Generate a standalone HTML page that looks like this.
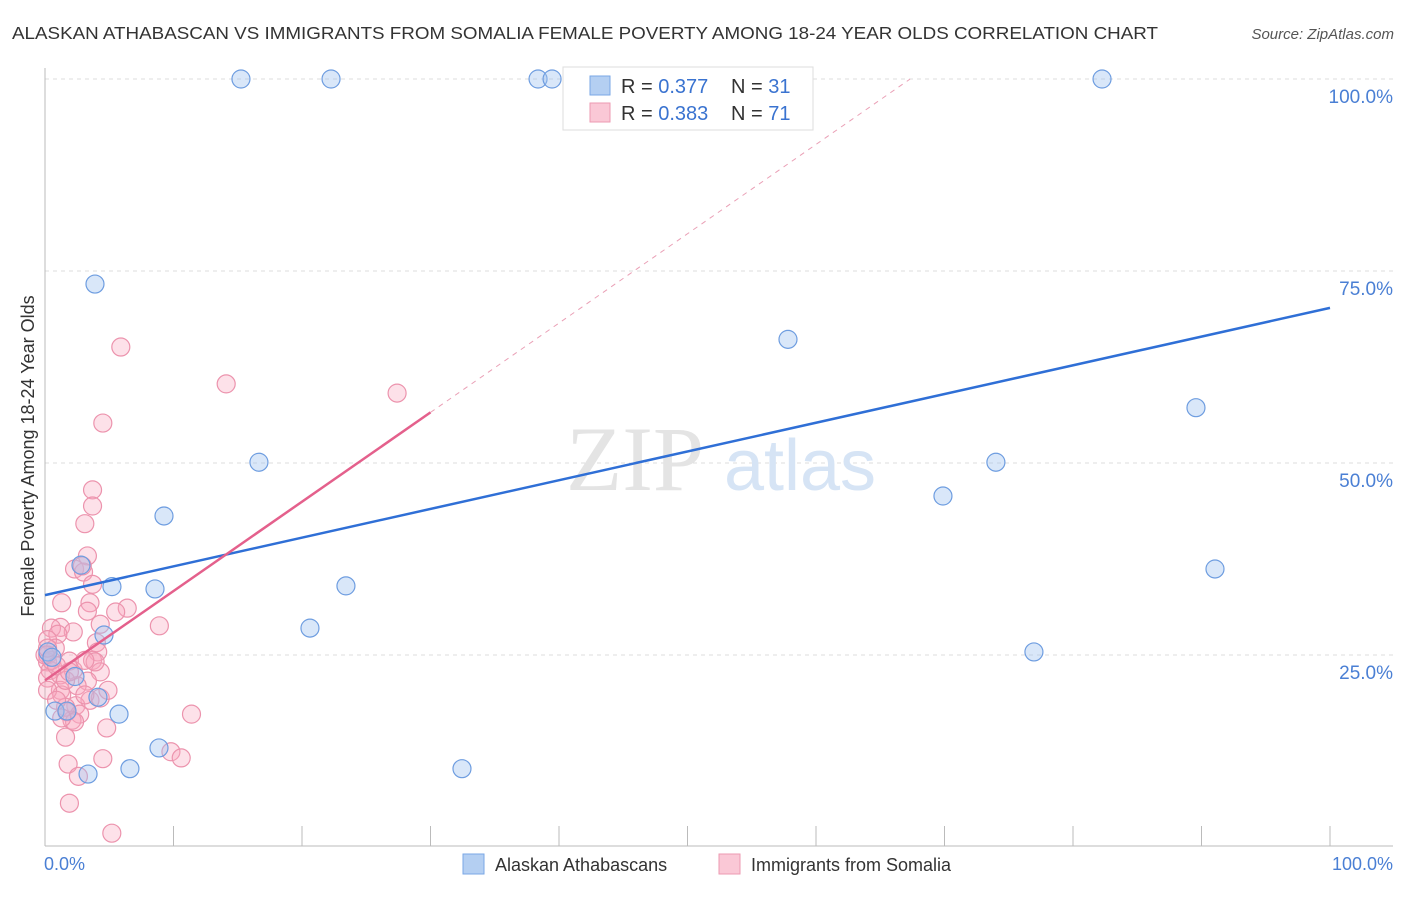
<!DOCTYPE html>
<html><head><meta charset="utf-8"><style>
body{margin:0;background:#fff;font-family:"Liberation Sans",sans-serif}
</style></head><body>
<svg width="1406" height="892" xmlns="http://www.w3.org/2000/svg" font-family="Liberation Sans, sans-serif">
<text x="12" y="39" font-size="17.5" fill="#333" textLength="1146" lengthAdjust="spacingAndGlyphs">ALASKAN ATHABASCAN VS IMMIGRANTS FROM SOMALIA FEMALE POVERTY AMONG 18-24 YEAR OLDS CORRELATION CHART</text>
<text x="1394" y="39" font-size="15" fill="#555" font-style="italic" text-anchor="end">Source: ZipAtlas.com</text>
<g id="grid"></g>
<g><text x="635" y="490" font-size="92" fill="#e4e4e4" font-family="Liberation Serif, serif" text-anchor="middle">ZIP</text><text x="800" y="490" font-size="72" fill="#d6e4f5" text-anchor="middle">atlas</text></g>
<line x1="45" y1="68" x2="45" y2="846" stroke="#bbb"/>
<line x1="45" y1="846" x2="1393" y2="846" stroke="#bbb"/>
<g id="ticks"></g>
<g id="ylabels"></g>
<text x="44" y="870" font-size="18" fill="#4a7fd4">0.0%</text>
<text x="1393" y="870" font-size="18" fill="#4a7fd4" text-anchor="end">100.0%</text>
<text transform="translate(34,456) rotate(-90)" font-size="18" fill="#333" text-anchor="middle">Female Poverty Among 18-24 Year Olds</text>
<g id="pink"></g>
<g id="blue"></g>
<g id="trends"></g>
<g>
<rect x="563" y="67" width="250" height="63" fill="#fff" stroke="#ddd"/>
<rect x="590" y="76" width="20" height="19" fill="#b4cff2" stroke="#7aa7e6"/>
<rect x="590" y="103" width="20" height="19" fill="#fac8d6" stroke="#ec9ab2"/>
<text x="621" y="93" font-size="20" fill="#333">R = <tspan fill="#3a73d0">0.377</tspan><tspan x="731">N = </tspan><tspan fill="#3a73d0">31</tspan></text>
<text x="621" y="120" font-size="20" fill="#333">R = <tspan fill="#3a73d0">0.383</tspan><tspan x="731">N = </tspan><tspan fill="#3a73d0">71</tspan></text>
</g>
<g>
<rect x="463" y="854" width="21" height="20" fill="#b4cff2" stroke="#7aa7e6"/>
<text x="495" y="871" font-size="18" fill="#333">Alaskan Athabascans</text>
<rect x="719" y="854" width="21" height="20" fill="#fac8d6" stroke="#ec9ab2"/>
<text x="751" y="871" font-size="18" fill="#333">Immigrants from Somalia</text>
</g>
</svg>
<script>
const yTicks=[25,50,75,100];
const yTickLabels=["25.0%","50.0%","75.0%","100.0%"];
const xTicks=[0,10,20,30,40,50,60,70,80,90,100];
const blueX=[15.25,22.26,38.37,39.46,82.26,3.89,57.82,89.57,16.65,74.0,69.88,9.26,91.05,2.8,5.21,8.56,23.42,20.62,4.59,76.96,2.33,4.12,0.78,1.71,5.76,8.87,6.61,3.35,32.45,0.23,0.54];
const blueY=[100,100,100,100,100,73.3,66.1,57.2,50.1,50.1,45.7,43.1,36.2,36.7,33.9,33.6,34.0,28.5,27.6,25.4,22.2,19.5,17.7,17.7,17.3,12.9,10.2,9.5,10.2,25.4,24.7];
const pinkX=[5.9,14.1,27.4,4.5,3.7,3.7,3.1,3.3,2.3,3.0,3.7,1.3,3.5,3.3,6.4,5.5,1.2,4.3,8.9,2.2,0.5,1.0,4.0,0.2,0.8,4.1,3.7,1.9,0.2,0.2,0.4,0.2,1.2,2.2,4.3,3.3,1.2,2.5,1.3,0.2,3.5,4.3,2.4,1.7,2.7,2.1,1.6,11.4,4.8,2.3,1.6,9.8,10.6,4.5,1.8,2.6,1.9,5.2,3.9,2.9,0.5,0.9,0,1.6,3.1,0.9,0.2,3.1,1.9,1.3,4.9];
const pinkY=[65.1,60.3,59.1,55.2,46.5,44.4,42.1,37.9,36.2,35.8,34.2,31.8,31.8,30.7,31.1,30.6,28.6,29.0,28.8,28.0,28.5,27.7,26.6,27.0,25.9,25.4,24.3,24.2,25.0,24.1,23.0,22.0,22.4,23.0,22.8,21.6,20.4,21.0,19.8,20.4,19.1,19.4,18.4,17.6,17.3,16.5,18.2,17.3,15.5,16.3,14.3,12.4,11.6,11.5,10.8,9.2,5.7,1.8,24.1,36.6,24.3,23.6,25,21.7,19.8,19.1,25.9,24.3,22.8,16.8,20.4];
const blueTrend=[32.8,70.2];
const pinkTrend=[21.7,1.163];
const pinkSolidEnd=30;

const X=v=>45+v*12.85, Y=v=>847-v*7.68;
const NS="http://www.w3.org/2000/svg";
function mk(tag,attrs,parent){const e=document.createElementNS(NS,tag);for(const k in attrs)e.setAttribute(k,attrs[k]);document.getElementById(parent).appendChild(e);return e;}
yTicks.forEach((t,i)=>{
 const l=mk('line',{x1:45,x2:1393,y1:Y(t),y2:Y(t),stroke:'#ddd','stroke-dasharray':'4,4'},'grid');
 
 
 const tx=mk('text',{x:1393,y:Y(t)+24,'font-size':19,fill:'#4a7fd4','text-anchor':'end'},'ylabels');
 tx.textContent=yTickLabels[i];
 
 
});
xTicks.forEach(t=>{
 const l=mk('line',{x1:X(t),x2:X(t),y1:826,y2:846,stroke:'#bbb'},'ticks');
 
 
});
pinkX.forEach((v,i)=>{
 const c=mk('circle',{cx:X(v),cy:Y(pinkY[i]),r:9,fill:'rgba(248,170,192,0.35)',stroke:'#ec93ad','stroke-width':1.2},'pink');
 
 
});
blueX.forEach((v,i)=>{
 const c=mk('circle',{cx:X(v),cy:Y(blueY[i]),r:9,fill:'rgba(160,196,240,0.4)',stroke:'#6e9de0','stroke-width':1.2},'blue');
 
 
});
const bt=mk('line',{x1:X(0),y1:Y(blueTrend[0]),x2:X(100),y2:Y(blueTrend[1]),stroke:'#2f6fd6','stroke-width':2.5},'trends');


const pEnd=(100-pinkTrend[0])/pinkTrend[1];
const pd=mk('line',{x1:X(pinkSolidEnd),y1:Y(pinkTrend[0]+pinkTrend[1]*pinkSolidEnd),x2:X(pEnd),y2:Y(100),stroke:'#eaa0b6','stroke-width':1,'stroke-dasharray':'5,5'},'trends');


const ps=mk('line',{x1:X(0),y1:Y(pinkTrend[0]),x2:X(pinkSolidEnd),y2:Y(pinkTrend[0]+pinkTrend[1]*pinkSolidEnd),stroke:'#e4608c','stroke-width':2.5},'trends');


</script>
</body></html>
